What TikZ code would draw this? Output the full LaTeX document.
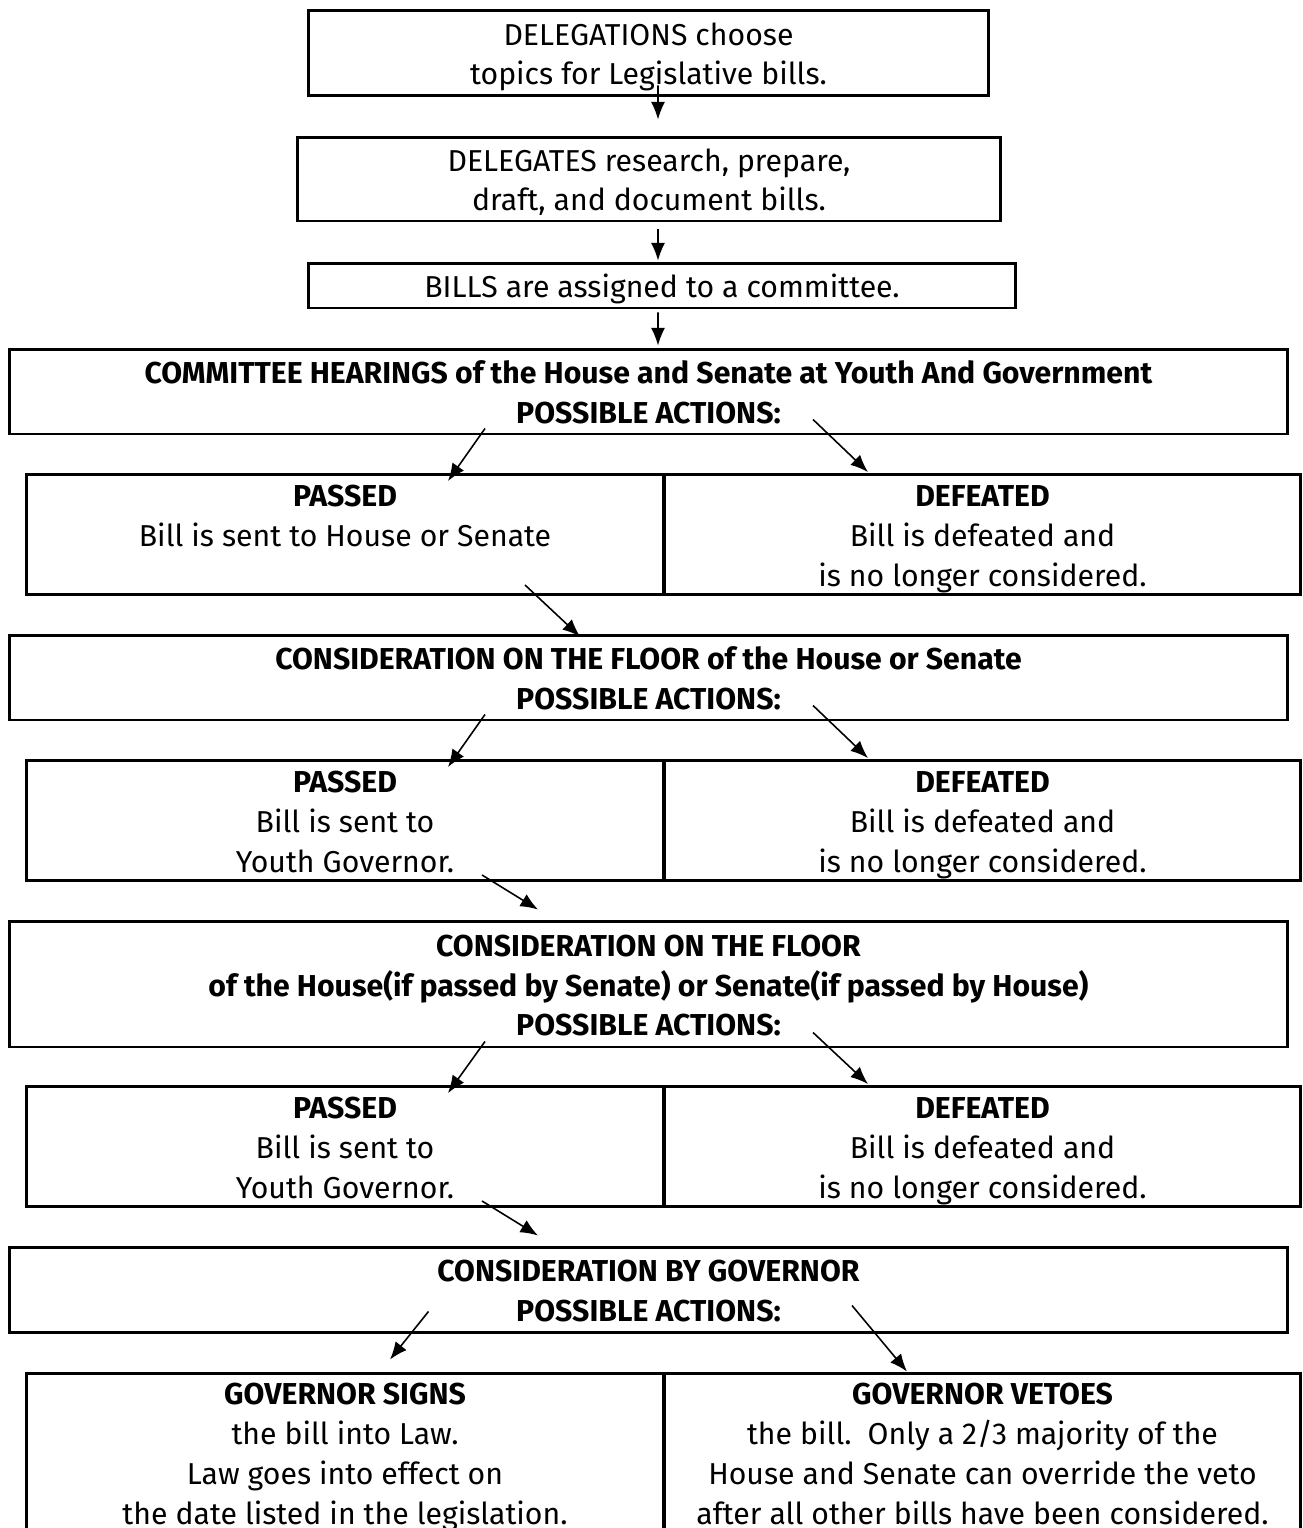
\documentclass[tikz,border=0pt]{standalone}
\usepackage{fontspec}
\setmainfont{Fira Sans}
\usetikzlibrary{arrows.meta}

% keeps first and last line of every box at the same height
\newcommand\cs{\rule[-0.2\baselineskip]{0pt}{\baselineskip}}
\newcommand\csl{\rule[-0.2\baselineskip]{0pt}{0.8\baselineskip}}

\begin{document}
\begin{tikzpicture}[x=0.02cm,y=-0.02cm,
	box/.style={draw, line width=1.7pt, inner sep=0pt, align=center,
		font=\fontsize{17.2}{22.76}\selectfont},
	wide/.style={box, minimum width=25.58cm},
	cell/.style={box, minimum height=2.38cm},
	flow/.style={-{Latex[length=10pt,width=8pt]}, line width=0.9pt}]

	\useasboundingbox (0,0) rectangle (1302,1528);

	% steps before the hearings
	\node[box, minimum width=13.62cm, minimum height=1.72cm] (top) at (648.5,53)
		{\cs DELEGATIONS choose\\topics for Legislative bills.\cs};
	\node[box, minimum width=14.08cm, minimum height=1.68cm] (draft) at (649,179)
		{\cs DELEGATES research, prepare,\\draft, and document bills.\cs};
	\node[box, minimum width=14.16cm, minimum height=0.9cm] (assign) at (662,285.5)
		{\cs BILLS are assigned to a committee.};

	% three rounds of voting
	\node[wide, minimum height=1.7cm] (hear) at (648.5,391.5)
		{\cs\textbf{COMMITTEE HEARINGS of the House and Senate at Youth And Government}\\\textbf{POSSIBLE ACTIONS:}\cs};
	\node[cell, minimum width=12.76cm] (hearpass) at (345,534.5)
		{\cs\textbf{PASSED}\\Bill is sent to House or Senate\\\cs};
	\node[cell, minimum width=12.74cm] (heardef) at (982.5,534.5)
		{\cs\textbf{DEFEATED}\\Bill is defeated and\\is no longer considered.\cs};

	\node[wide, minimum height=1.7cm] (floorA) at (648.5,677.5)
		{\cs\textbf{CONSIDERATION ON THE FLOOR of the House or Senate}\\\textbf{POSSIBLE ACTIONS:}\cs};
	\node[cell, minimum width=12.76cm] (floorApass) at (345,820.5)
		{\cs\textbf{PASSED}\\Bill is sent to\\Youth Governor.\cs};
	\node[cell, minimum width=12.74cm] (floorAdef) at (982.5,820.5)
		{\cs\textbf{DEFEATED}\\Bill is defeated and\\is no longer considered.\cs};

	\node[wide, minimum height=2.52cm] (floorB) at (648.5,984)
		{\cs\textbf{CONSIDERATION ON THE FLOOR}\\\textbf{of the House(if passed by Senate) or Senate(if passed by House)}\\\textbf{POSSIBLE ACTIONS:}\cs};
	\node[cell, minimum width=12.76cm] (floorBpass) at (345,1146.5)
		{\cs\textbf{PASSED}\\Bill is sent to\\Youth Governor.\cs};
	\node[cell, minimum width=12.74cm] (floorBdef) at (982.5,1146.5)
		{\cs\textbf{DEFEATED}\\Bill is defeated and\\is no longer considered.\cs};

	% governor
	\node[wide, minimum height=1.7cm] (gov) at (648.5,1289.5)
		{\cs\textbf{CONSIDERATION BY GOVERNOR}\\\textbf{POSSIBLE ACTIONS:}\cs};
	\node[box, minimum width=12.76cm, minimum height=3.34cm] (govsign) at (345,1456.5)
		{\csl\textbf{GOVERNOR SIGNS}\\the bill into Law.\\Law goes into effect on\\the date listed in the legislation.\cs};
	\node[box, minimum width=12.74cm, minimum height=3.34cm] (govveto) at (982.5,1456.5)
		{\csl\textbf{GOVERNOR VETOES}\\the bill.\ \ Only a 2/3 majority of the\\House and Senate can override the veto\\after all other bills have been considered.\cs};

	\draw[flow] ([shift={(9.5,-12)}]top.south) -- ([shift={(9,-16)}]draft.north);
	\draw[flow] ([shift={(9,7)}]draft.south) -- ([shift={(-4,-1)}]assign.north);
	\draw[flow] ([shift={(-4,3)}]assign.south) -- ([shift={(9.5,-2)}]hear.north);

	\foreach \v in {hear,floorA,floorB} {
		\draw[flow] ([shift={(-163.5,-7)}]\v.south) -- ([shift={(103,8)}]\v pass.north);
		\draw[flow] ([shift={(164.5,-16)}]\v.south) -- ([shift={(-114.5,-1)}]\v def.north);
	}

	\draw[flow] ([shift={(180,-11)}]hearpass.south) -- ([shift={(-68.5,3)}]floorA.north);
	\draw[flow] ([shift={(137,-7)}]floorApass.south) -- ([shift={(-110.5,-10)}]floorB.north);
	\draw[flow] ([shift={(137,-7)}]floorBpass.south) -- ([shift={(-110.5,-10)}]gov.north);

	\draw[flow] ([shift={(-220,-22)}]gov.south) -- ([shift={(45,-12)}]govsign.north);
	\draw[flow] ([shift={(203.5,-28)}]gov.south) -- ([shift={(-75.5,0)}]govveto.north);

\end{tikzpicture}
\end{document}
